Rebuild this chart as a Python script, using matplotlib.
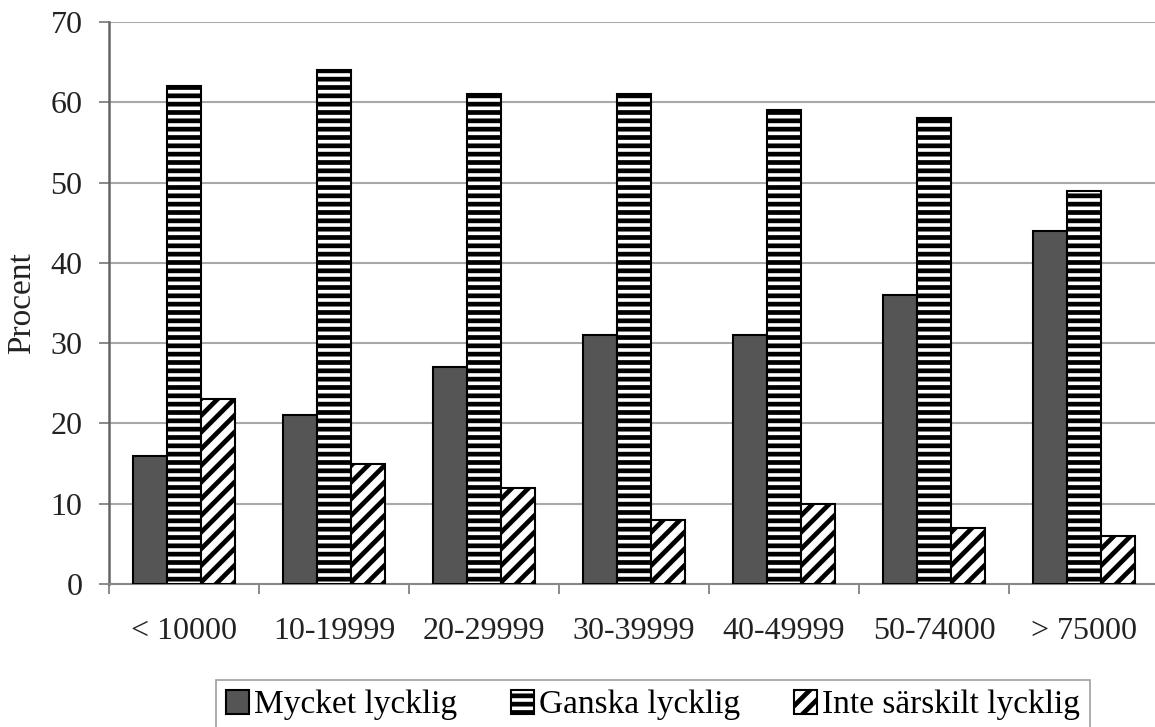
import numpy as np
import matplotlib
matplotlib.use("Agg")
import matplotlib.pyplot as plt

# Data
categories = ["< 10000", "10-19999", "20-29999", "30-39999", "40-49999", "50-74000", "> 75000"]
mycket = [16, 21, 27, 31, 31, 36, 44]
ganska = [62, 64, 61, 61, 59, 58, 49]
inte = [23, 15, 12, 8, 10, 7, 6]
series_names = ["Mycket lycklig", "Ganska lycklig", "Inte särskilt lycklig"]
yticks = [0, 10, 20, 30, 40, 50, 60, 70]

plt.rcParams["font.family"] = ["Liberation Serif", "DejaVu Serif"]
plt.rcParams["hatch.linewidth"] = 3.4

fig = plt.figure(figsize=(11.55, 7.27), dpi=100)
# axes runs slightly past the right edge, like the reference crop
ax = fig.add_axes([109 / 1155, 143 / 727, 1050 / 1155, 562 / 727])

x = np.arange(len(categories)) + 0.5
w = 0.2267

ax.bar(x - w, mycket, w, color="#555555", edgecolor="black", linewidth=1.5,
       label=series_names[0], zorder=3)
ax.bar(x, ganska, w, color="white", edgecolor="black", linewidth=1.5,
       hatch="--", label=series_names[1], zorder=3)
ax.bar(x + w, inte, w, color="white", edgecolor="black", linewidth=1.5,
       hatch="//", label=series_names[2], zorder=3)

ax.set_xlim(0, len(categories))
ax.set_ylim(0, 70)
ax.set_yticks(yticks)
ax.set_xticks(x)
ax.set_xticklabels(categories)
ax.set_xticks(np.arange(len(categories) + 1), minor=True)

ax.tick_params(axis="x", which="major", length=0, pad=24, labelsize=23, colors="#222222")
ax.tick_params(axis="x", which="minor", length=7, width=1.2, color="#777777")
ax.tick_params(axis="y", length=7, width=1.2, color="#777777", pad=12,
               labelsize=23, labelcolor="#222222")

ax.grid(axis="y", color="#a8a8a8", linewidth=1.5, zorder=0)
ax.set_axisbelow(True)
for s in ["top", "right"]:
    ax.spines[s].set_visible(False)
ax.spines["left"].set_color("#666666")
ax.spines["left"].set_linewidth(1.8)
ax.spines["bottom"].set_color("#888888")
ax.spines["bottom"].set_linewidth(1.5)

ax.set_ylabel("Procent", fontsize=24, color="#222222", labelpad=10)

leg = fig.legend(loc="upper center", bbox_to_anchor=(653 / 1155, 1 - 680 / 727),
                 ncol=3, fontsize=24, frameon=True, fancybox=False,
                 handlelength=0.7, handleheight=0.7, handletextpad=0.15,
                 columnspacing=1.6, borderpad=0.3, borderaxespad=0)
leg.get_frame().set_edgecolor("#888888")
leg.get_frame().set_linewidth(1.2)

fig.savefig("out.png", dpi=100)
